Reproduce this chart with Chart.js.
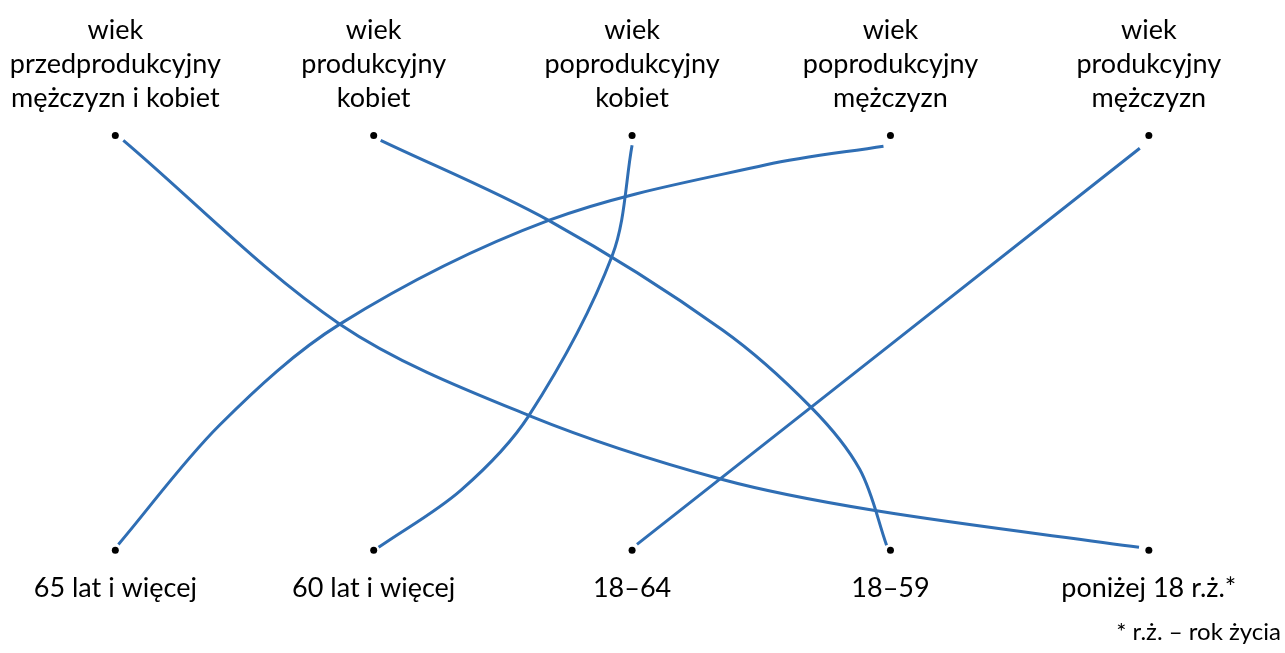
<!DOCTYPE html>
<html>
<head>
    <title>Grupy wieku</title>
    <script src="https://cdn.jsdelivr.net/npm/chart.js"></script>
    <style>
        body { margin: 0; background: #fff; }
        #box { width: 1285px; height: 653px; }
    </style>
</head>
<body>
    <div id="box"><canvas id="ageChart"></canvas></div>

    <script>
        // Column labels (top row and bottom row), column 0..4
        const topLabels = [
            ['wiek', 'przedprodukcyjny', 'mężczyzn i kobiet'],
            ['wiek', 'produkcyjny', 'kobiet'],
            ['wiek', 'poprodukcyjny', 'kobiet'],
            ['wiek', 'poprodukcyjny', 'mężczyzn'],
            ['wiek', 'produkcyjny', 'mężczyzn']
        ];
        const bottomLabels = ['65 lat i więcej', '60 lat i więcej', '18–64', '18–59', 'poniżej 18 r.ż.*'];
        const footnote = '* r.ż. – rok życia';

        // Dots: x = column, y = level (100 = top row, 0 = bottom row)
        const columns = [0, 1, 2, 3, 4];
        const topLevel = 100;
        const bottomLevel = 0;

        // Connecting curves, a few points (column, level)
        const curvePrzed = [
            {x: 0.031, y: 98.8}, {x: 0.869, y: 54.5}, {x: 1.604, y: 32.4},
            {x: 2.346, y: 17.1}, {x: 2.946, y: 9.5}, {x: 3.962, y: 0.7}
        ];
        const curveProdK = [
            {x: 1.027, y: 98.8}, {x: 1.677, y: 79.5}, {x: 2.350, y: 53.1},
            {x: 2.692, y: 34.5}, {x: 2.881, y: 19.5}, {x: 2.985, y: 1.2}
        ];
        const curvePoprodK = [
            {x: 2.000, y: 97.6}, {x: 1.923, y: 71.0}, {x: 1.600, y: 32.4},
            {x: 1.338, y: 14.5}, {x: 1.019, y: 0.7}
        ];
        const curvePoprodM = [
            {x: 2.973, y: 97.4}, {x: 2.519, y: 92.9}, {x: 1.677, y: 79.5},
            {x: 0.869, y: 54.5}, {x: 0.404, y: 30.2}, {x: 0.012, y: 1.4}
        ];
        const curveProdM = [
            {x: 3.965, y: 96.9}, {x: 2.019, y: 1.4}
        ];

        const lineColor = '#2f6eb4';

        const dots = [];
        columns.forEach(c => {
            dots.push({x: c, y: topLevel});
            dots.push({x: c, y: bottomLevel});
        });

        function curve(data) {
            return {
                data: data,
                showLine: true,
                borderColor: lineColor,
                borderWidth: 3,
                pointRadius: 0,
                tension: 0.33,
                fill: false
            };
        }

        // Draws the column texts at the scale positions of the dots
        const labelPlugin = {
            id: 'labels',
            afterDraw(chart) {
                const ctx = chart.ctx;
                const xs = chart.scales.x;
                const ys = chart.scales.y;
                ctx.save();
                ctx.fillStyle = '#000';
                ctx.textAlign = 'center';
                ctx.textBaseline = 'alphabetic';
                ctx.font = '27px Lato';
                const topY = ys.getPixelForValue(topLevel);
                topLabels.forEach((lines, i) => {
                    const px = xs.getPixelForValue(columns[i]);
                    lines.forEach((t, j) => {
                        ctx.fillText(t, px, topY - 96 + j * 34);
                    });
                });
                const botY = ys.getPixelForValue(bottomLevel);
                bottomLabels.forEach((t, i) => {
                    ctx.fillText(t, xs.getPixelForValue(columns[i]), botY + 47);
                });
                ctx.font = '24px Lato';
                ctx.textAlign = 'right';
                ctx.fillText(footnote, chart.width - 4, botY + 90);
                ctx.restore();
            }
        };

        new Chart(document.getElementById('ageChart'), {
            type: 'scatter',
            data: {
                datasets: [
                    curve(curvePrzed),
                    curve(curveProdK),
                    curve(curvePoprodK),
                    curve(curvePoprodM),
                    curve(curveProdM),
                    {
                        data: dots,
                        showLine: false,
                        pointRadius: 3.5,
                        pointBackgroundColor: '#000',
                        pointBorderWidth: 0
                    }
                ]
            },
            options: {
                responsive: true,
                maintainAspectRatio: false,
                animation: false,
                layout: { padding: 0 },
                plugins: {
                    legend: { display: false },
                    tooltip: { enabled: false }
                },
                scales: {
                    x: { type: 'linear', min: -0.4308, max: 4.5115, display: false },
                    y: { type: 'linear', min: -23.81, max: 131.67, display: false }
                }
            },
            plugins: [labelPlugin]
        });
    </script>
</body>
</html>
